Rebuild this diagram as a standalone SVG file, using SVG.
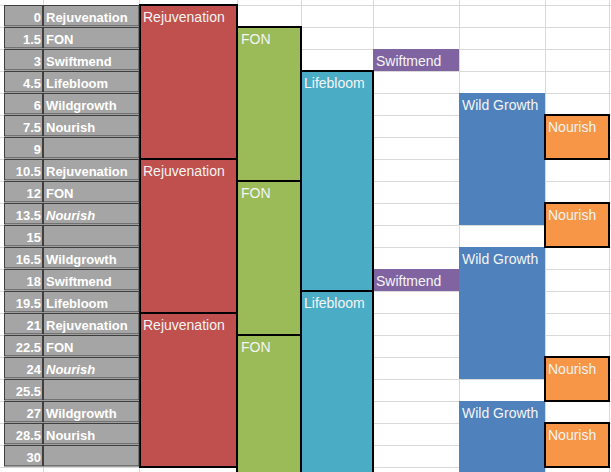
<svg xmlns="http://www.w3.org/2000/svg" width="611" height="472" viewBox="0 0 611 472">
<style>
.grid line{stroke:#d9d9d9;stroke-width:1}
.cell{fill:#a5a5a5;stroke:#3f3f3f;stroke-width:1}
.ct{font-family:"Liberation Sans",Arial,sans-serif;font-size:13px;font-weight:bold;fill:#ffffff}
.num{text-anchor:end}
.it{font-style:italic}
.blk{stroke:#000;stroke-width:2}
.bt{font-family:"Liberation Sans",Arial,sans-serif;font-size:14px;fill:#f4f4f4}
.rej{fill:#c0504d}
.fon{fill:#9bbb59}
.lb{fill:#4bacc6}
.sm{fill:#8064a2}
.wg{fill:#4f81bd}
.no{fill:#f79646}
</style>
<rect width="611" height="472" fill="#ffffff"/>
<g class="grid" id="grid">
<line x1="0" y1="5.5" x2="611" y2="5.5"/><line x1="0" y1="27.5" x2="611" y2="27.5"/><line x1="0" y1="49.5" x2="611" y2="49.5"/><line x1="0" y1="71.5" x2="611" y2="71.5"/><line x1="0" y1="93.5" x2="611" y2="93.5"/><line x1="0" y1="115.5" x2="611" y2="115.5"/><line x1="0" y1="137.5" x2="611" y2="137.5"/><line x1="0" y1="159.5" x2="611" y2="159.5"/><line x1="0" y1="181.5" x2="611" y2="181.5"/><line x1="0" y1="203.5" x2="611" y2="203.5"/><line x1="0" y1="225.5" x2="611" y2="225.5"/><line x1="0" y1="247.5" x2="611" y2="247.5"/><line x1="0" y1="269.5" x2="611" y2="269.5"/><line x1="0" y1="291.5" x2="611" y2="291.5"/><line x1="0" y1="313.5" x2="611" y2="313.5"/><line x1="0" y1="335.5" x2="611" y2="335.5"/><line x1="0" y1="357.5" x2="611" y2="357.5"/><line x1="0" y1="379.5" x2="611" y2="379.5"/><line x1="0" y1="401.5" x2="611" y2="401.5"/><line x1="0" y1="423.5" x2="611" y2="423.5"/><line x1="0" y1="445.5" x2="611" y2="445.5"/><line x1="0" y1="467.5" x2="611" y2="467.5"/>
<line x1="43.5" y1="0" x2="43.5" y2="472"/><line x1="139.5" y1="0" x2="139.5" y2="472"/><line x1="237.5" y1="0" x2="237.5" y2="472"/><line x1="301.5" y1="0" x2="301.5" y2="472"/><line x1="373.5" y1="0" x2="373.5" y2="472"/><line x1="459.5" y1="0" x2="459.5" y2="472"/><line x1="545.5" y1="0" x2="545.5" y2="472"/><line x1="609.5" y1="0" x2="609.5" y2="472"/>
</g>
<g id="rejuvenation">
<rect class="rej blk" x="140" y="5" width="97" height="154"/><text class="bt" x="143" y="21.5">Rejuvenation</text>
<rect class="rej blk" x="140" y="159" width="97" height="154"/><text class="bt" x="143" y="175.5">Rejuvenation</text>
<rect class="rej blk" x="140" y="313" width="97" height="154"/><text class="bt" x="143" y="329.5">Rejuvenation</text>
</g>
<g id="fon">
<rect class="fon blk" x="237" y="27" width="64" height="154"/><text class="bt" x="241" y="43.5">FON</text>
<rect class="fon blk" x="237" y="181" width="64" height="154"/><text class="bt" x="241" y="197.5">FON</text>
<rect class="fon blk" x="237" y="335" width="64" height="154"/><text class="bt" x="241" y="351.5">FON</text>
</g>
<g id="swiftmend">
<rect class="sm" x="373" y="49" width="86" height="22"/><text class="bt" x="376" y="65.5">Swiftmend</text>
<rect class="sm" x="373" y="269" width="86" height="22"/><text class="bt" x="376" y="285.5">Swiftmend</text>
</g>
<g id="lifebloom">
<rect class="lb blk" x="301" y="71" width="72" height="220"/><text class="bt" x="304" y="87.5">Lifebloom</text>
<rect class="lb blk" x="301" y="291" width="72" height="220"/><text class="bt" x="304" y="307.5">Lifebloom</text>
</g>
<g id="wildgrowth">
<rect class="wg" x="459" y="93" width="86" height="132"/><text class="bt" x="462" y="109.5">Wild Growth</text>
<rect class="wg" x="459" y="247" width="86" height="132"/><text class="bt" x="462" y="263.5">Wild Growth</text>
<rect class="wg" x="459" y="401" width="86" height="132"/><text class="bt" x="462" y="417.5">Wild Growth</text>
</g>
<g id="nourish">
<rect class="no blk" x="545" y="115" width="64" height="44"/><text class="bt" x="548" y="131.5">Nourish</text>
<rect class="no blk" x="545" y="203" width="64" height="44"/><text class="bt" x="548" y="219.5">Nourish</text>
<rect class="no blk" x="545" y="357" width="64" height="44"/><text class="bt" x="548" y="373.5">Nourish</text>
<rect class="no blk" x="545" y="423" width="64" height="44"/><text class="bt" x="548" y="439.5">Nourish</text>
</g>
<g id="timeline">
<g class="cells">
<rect class="cell" x="4.5" y="5.5" width="38" height="20.5"/><rect class="cell" x="43.5" y="5.5" width="95.5" height="20.5"/>
<rect class="cell" x="4.5" y="27.5" width="38" height="20.5"/><rect class="cell" x="43.5" y="27.5" width="95.5" height="20.5"/>
<rect class="cell" x="4.5" y="49.5" width="38" height="20.5"/><rect class="cell" x="43.5" y="49.5" width="95.5" height="20.5"/>
<rect class="cell" x="4.5" y="71.5" width="38" height="20.5"/><rect class="cell" x="43.5" y="71.5" width="95.5" height="20.5"/>
<rect class="cell" x="4.5" y="93.5" width="38" height="20.5"/><rect class="cell" x="43.5" y="93.5" width="95.5" height="20.5"/>
<rect class="cell" x="4.5" y="115.5" width="38" height="20.5"/><rect class="cell" x="43.5" y="115.5" width="95.5" height="20.5"/>
<rect class="cell" x="4.5" y="137.5" width="38" height="20.5"/><rect class="cell" x="43.5" y="137.5" width="95.5" height="20.5"/>
<rect class="cell" x="4.5" y="159.5" width="38" height="20.5"/><rect class="cell" x="43.5" y="159.5" width="95.5" height="20.5"/>
<rect class="cell" x="4.5" y="181.5" width="38" height="20.5"/><rect class="cell" x="43.5" y="181.5" width="95.5" height="20.5"/>
<rect class="cell" x="4.5" y="203.5" width="38" height="20.5"/><rect class="cell" x="43.5" y="203.5" width="95.5" height="20.5"/>
<rect class="cell" x="4.5" y="225.5" width="38" height="20.5"/><rect class="cell" x="43.5" y="225.5" width="95.5" height="20.5"/>
<rect class="cell" x="4.5" y="247.5" width="38" height="20.5"/><rect class="cell" x="43.5" y="247.5" width="95.5" height="20.5"/>
<rect class="cell" x="4.5" y="269.5" width="38" height="20.5"/><rect class="cell" x="43.5" y="269.5" width="95.5" height="20.5"/>
<rect class="cell" x="4.5" y="291.5" width="38" height="20.5"/><rect class="cell" x="43.5" y="291.5" width="95.5" height="20.5"/>
<rect class="cell" x="4.5" y="313.5" width="38" height="20.5"/><rect class="cell" x="43.5" y="313.5" width="95.5" height="20.5"/>
<rect class="cell" x="4.5" y="335.5" width="38" height="20.5"/><rect class="cell" x="43.5" y="335.5" width="95.5" height="20.5"/>
<rect class="cell" x="4.5" y="357.5" width="38" height="20.5"/><rect class="cell" x="43.5" y="357.5" width="95.5" height="20.5"/>
<rect class="cell" x="4.5" y="379.5" width="38" height="20.5"/><rect class="cell" x="43.5" y="379.5" width="95.5" height="20.5"/>
<rect class="cell" x="4.5" y="401.5" width="38" height="20.5"/><rect class="cell" x="43.5" y="401.5" width="95.5" height="20.5"/>
<rect class="cell" x="4.5" y="423.5" width="38" height="20.5"/><rect class="cell" x="43.5" y="423.5" width="95.5" height="20.5"/>
<rect class="cell" x="4.5" y="445.5" width="38" height="20.5"/><rect class="cell" x="43.5" y="445.5" width="95.5" height="20.5"/>
</g>
<g class="ct">
<text class="num" x="41" y="22">0</text><text x="46" y="22">Rejuvenation</text>
<text class="num" x="41" y="44">1.5</text><text x="46" y="44">FON</text>
<text class="num" x="41" y="66">3</text><text x="46" y="66">Swiftmend</text>
<text class="num" x="41" y="88">4.5</text><text x="46" y="88">Lifebloom</text>
<text class="num" x="41" y="110">6</text><text x="46" y="110">Wildgrowth</text>
<text class="num" x="41" y="132">7.5</text><text x="46" y="132">Nourish</text>
<text class="num" x="41" y="154">9</text>
<text class="num" x="41" y="176">10.5</text><text x="46" y="176">Rejuvenation</text>
<text class="num" x="41" y="198">12</text><text x="46" y="198">FON</text>
<text class="num" x="41" y="220">13.5</text><text class="it" x="46" y="220">Nourish</text>
<text class="num" x="41" y="242">15</text>
<text class="num" x="41" y="264">16.5</text><text x="46" y="264">Wildgrowth</text>
<text class="num" x="41" y="286">18</text><text x="46" y="286">Swiftmend</text>
<text class="num" x="41" y="308">19.5</text><text x="46" y="308">Lifebloom</text>
<text class="num" x="41" y="330">21</text><text x="46" y="330">Rejuvenation</text>
<text class="num" x="41" y="352">22.5</text><text x="46" y="352">FON</text>
<text class="num" x="41" y="374">24</text><text class="it" x="46" y="374">Nourish</text>
<text class="num" x="41" y="396">25.5</text>
<text class="num" x="41" y="418">27</text><text x="46" y="418">Wildgrowth</text>
<text class="num" x="41" y="440">28.5</text><text x="46" y="440">Nourish</text>
<text class="num" x="41" y="462">30</text>
</g>
</g>
</svg>
